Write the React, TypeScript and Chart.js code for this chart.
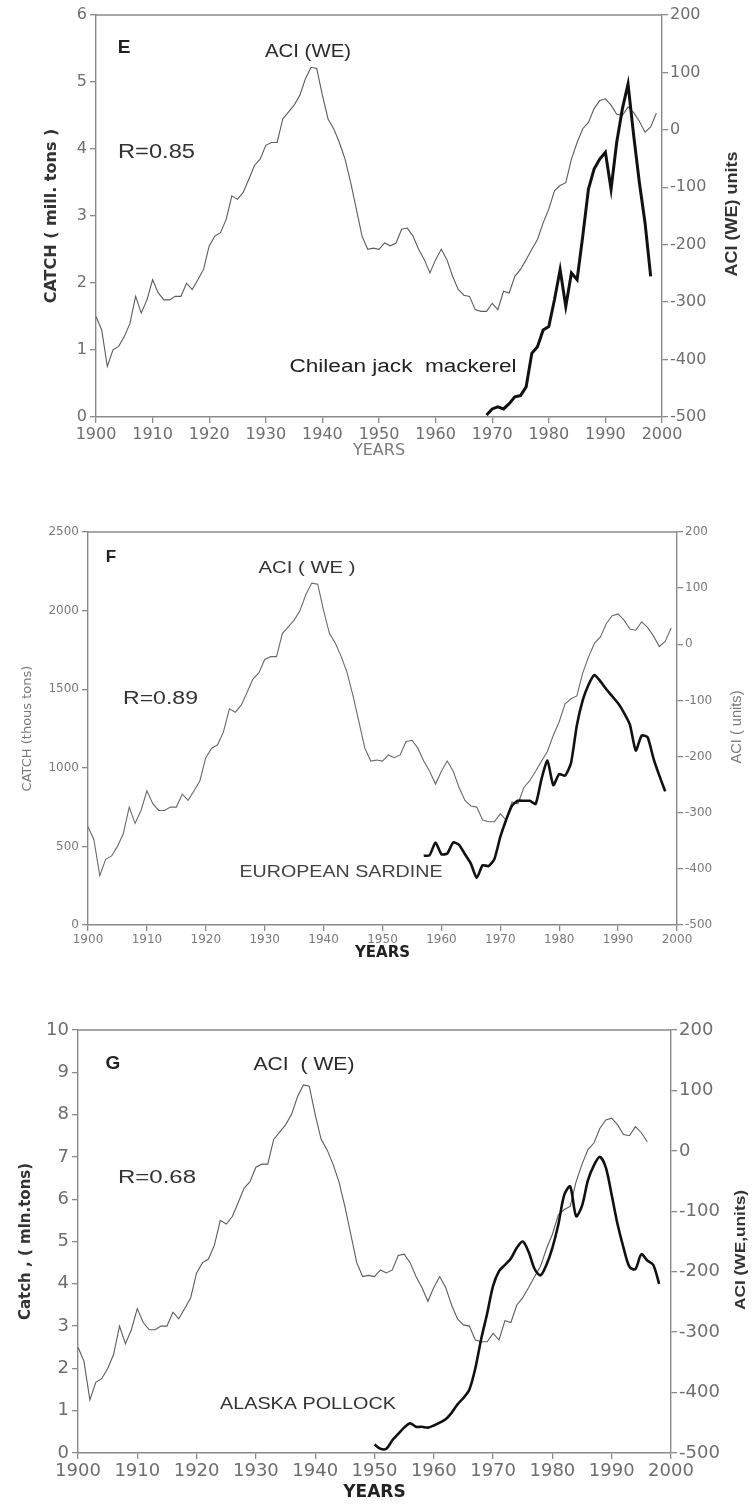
import React, { useEffect, useRef } from "react";
import { Chart, registerables } from "chart.js";

Chart.register(...registerables);
Chart.defaults.font.family = "DejaVu Sans";

// ---------------- DATA ----------------
// ACI (WE) index, annual, 1900..1999 (right axis units)
const ACI_START = 1900;
const aciValues = [
  -325, -348, -412, -383, -377, -360, -337, -290, -319, -296,
  -261, -284, -296, -296, -290, -290, -267, -278, -261, -243,
  -202, -185, -179, -156, -115, -121, -109, -86, -62, -51,
  -27, -22, -22, 19, 31, 43, 60, 89, 109, 107,
  60, 19, 2, -22, -51, -92, -138, -185, -208, -206,
  -208, -197, -202, -197, -173, -171, -185, -208, -226, -249,
  -226, -208, -226, -255, -278, -288, -290, -313, -316, -316,
  -302, -313, -281, -284, -255, -243, -226, -208, -191, -162,
  -138, -106, -97, -92, -51, -22, 2, 13, 37, 51,
  54, 43, 27, 25, 40, 30, 15, -4, 5, 29,
];

// Chilean jack mackerel catch (mill. tons), 1969..1998
const JACK_START = 1969;
const jackMackerel = [
  0.03, 0.12, 0.15, 0.12, 0.2, 0.3, 0.32, 0.45, 0.95, 1.05,
  1.3, 1.35, 1.75, 2.2, 1.65, 2.15, 2.05, 2.7, 3.4, 3.7,
  3.85, 3.95, 3.4, 4.1, 4.6, 4.97, 4.2, 3.5, 2.9, 2.1,
];

// European sardine catch (thous. tons), 1957..1998
const SARDINE_START = 1957;
const europeanSardine = [
  440, 445, 525, 450, 455, 525, 510, 450, 390, 300,
  380, 375, 420, 560, 670, 760, 790, 790, 790, 770,
  930, 1045, 890, 960, 950, 1030, 1270, 1430, 1530, 1590,
  1550, 1500, 1455, 1410, 1350, 1275, 1110, 1205, 1195, 1060,
  950, 850,
];

// Alaska pollock catch (mln. tons), 1950..1998
const POLLOCK_START = 1950;
const alaskaPollock = [
  0.2, 0.1, 0.1, 0.3, 0.45, 0.6, 0.7, 0.62, 0.62, 0.6,
  0.65, 0.72, 0.8, 0.95, 1.15, 1.3, 1.5, 2.0, 2.7, 3.3,
  3.95, 4.3, 4.45, 4.6, 4.85, 5.0, 4.75, 4.35, 4.2, 4.45,
  4.85, 5.4, 6.1, 6.3, 5.6, 5.85, 6.45, 6.8, 7.0, 6.75,
  6.1, 5.4, 4.85, 4.4, 4.35, 4.7, 4.55, 4.45, 4.0,
];

const X_TICKS = { min: 1900, max: 2000, step: 10 };
const ACI_AXIS = { min: -500, max: 200, step: 100 };

// ---------------- LAYOUT / STYLE ----------------
type Note = {
  text: string; x: number; y: number; font: string; color: string;
  align: CanvasTextAlign; width?: number; rotate?: boolean;
};

type PanelSpec = {
  top: number; height: number; padTop: number; xAxisH: number;
  leftW: number; rightW: number;
  leftMax: number; leftStep: number;
  tickSize: number; tickColor: string; tickLen: number;
  leftTitle: { text: string; font: any; color: string; pad: number };
  xTitle: { text: string; font: any; color: string; pad: number };
  aciEnd: number; aciColor: string;
  catchStart: number; catchValues: number[]; catchWidth: number; tension: number;
  notes: Note[];
};

const AXIS_COLOR = "#8a8a8a";
const FF = "DejaVu Sans";
const AF = "Liberation Sans";

const panels: PanelSpec[] = [
  {
    top: 0, height: 470, padTop: 15, xAxisH: 53, leftW: 96, rightW: 90,
    leftMax: 6, leftStep: 1, tickSize: 16, tickColor: "#6e6e6e", tickLen: 6,
    leftTitle: { text: "CATCH ( mill. tons )", font: { size: 16, weight: "bold", family: FF }, color: "#333", pad: 42 },
    xTitle: { text: "YEARS", font: { size: 16, family: FF }, color: "#7a7a7a", pad: 10 },
    aciEnd: 1999, aciColor: "#5c5c5c",
    catchStart: JACK_START, catchValues: jackMackerel, catchWidth: 3, tension: 0,
    notes: [
      { text: "E", x: 124, y: 48, font: `bold 19px ${AF}`, color: "#222", align: "center" },
      { text: "ACI (WE)", x: 308, y: 52, font: `18px ${AF}`, color: "#2a2a2a", align: "center", width: 86 },
      { text: "R=0.85", x: 118, y: 152, font: `20px ${AF}`, color: "#333", align: "left", width: 77 },
      { text: "Chilean jack  mackerel", x: 403, y: 367, font: `18px ${AF}`, color: "#222", align: "center", width: 227 },
      { text: "ACI (WE) units", x: 733, y: 214, font: `bold 16px ${AF}`, color: "#333", align: "center", width: 125, rotate: true },
    ],
  },
  {
    top: 470, height: 500, padTop: 62, xAxisH: 45, leftW: 88, rightW: 75,
    leftMax: 2500, leftStep: 500, tickSize: 12, tickColor: "#7a7a7a", tickLen: 6,
    leftTitle: { text: "CATCH (thous tons)", font: { size: 13, family: FF }, color: "#7a7a7a", pad: 20 },
    xTitle: { text: "YEARS", font: { size: 15, weight: "bold", family: FF }, color: "#222", pad: 8 },
    aciEnd: 1999, aciColor: "#6a6a6a",
    catchStart: SARDINE_START, catchValues: europeanSardine, catchWidth: 2.6, tension: 0.2,
    notes: [
      { text: "F", x: 111, y: 87, font: `bold 17px ${AF}`, color: "#222", align: "center" },
      { text: "ACI ( WE )", x: 307, y: 98, font: `17px ${AF}`, color: "#333", align: "center", width: 97 },
      { text: "R=0.89", x: 123, y: 229, font: `18px ${AF}`, color: "#333", align: "left", width: 75 },
      { text: "EUROPEAN SARDINE", x: 341, y: 402, font: `17px ${AF}`, color: "#444", align: "center", width: 203 },
      { text: "ACI ( units)", x: 737, y: 257, font: `14px ${AF}`, color: "#7a7a7a", align: "center", width: 73, rotate: true },
    ],
  },
  {
    top: 970, height: 535, padTop: 60, xAxisH: 52, leftW: 78, rightW: 81,
    leftMax: 10, leftStep: 1, tickSize: 18, tickColor: "#6e6e6e", tickLen: 6,
    leftTitle: { text: "Catch , ( mln.tons)", font: { size: 15, weight: "bold", family: FF }, color: "#333", pad: 17 },
    xTitle: { text: "YEARS", font: { size: 17, weight: "bold", family: FF }, color: "#222", pad: 2 },
    aciEnd: 1996, aciColor: "#5c5c5c",
    catchStart: POLLOCK_START, catchValues: alaskaPollock, catchWidth: 2.6, tension: 0.3,
    notes: [
      { text: "G", x: 113, y: 94, font: `bold 19px ${AF}`, color: "#222", align: "center" },
      { text: "ACI  ( WE)", x: 304, y: 95, font: `19px ${AF}`, color: "#2a2a2a", align: "center", width: 101 },
      { text: "R=0.68", x: 118, y: 208, font: `19px ${AF}`, color: "#333", align: "left", width: 78 },
      { text: "ALASKA POLLOCK", x: 308, y: 434, font: `17px ${AF}`, color: "#333", align: "center", width: 176 },
      { text: "ACI (WE,units)", x: 741, y: 280, font: `bold 15px ${AF}`, color: "#333", align: "center", width: 120, rotate: true },
    ],
  },
];

// ---------------- CHART BUILD ----------------
function toPoints(start: number, values: number[]) {
  return values.map((v, i) => ({ x: start + i, y: v }));
}

function buildConfig(p: PanelSpec): any {
  const aci = aciValues.slice(0, p.aciEnd - ACI_START + 1);
  const notesPlugin = {
    id: "notes",
    afterDraw(chart: any) {
      const ctx = chart.ctx as CanvasRenderingContext2D;
      const a = chart.chartArea;
      ctx.save();
      ctx.strokeStyle = AXIS_COLOR;
      ctx.lineWidth = 1.4;
      ctx.beginPath();
      ctx.moveTo(a.left, a.top);
      ctx.lineTo(a.right, a.top);
      ctx.stroke();
      ctx.restore();
      p.notes.forEach((n) => {
        ctx.save();
        ctx.font = n.font;
        ctx.fillStyle = n.color;
        ctx.textBaseline = "middle";
        ctx.textAlign = n.align;
        ctx.translate(n.x, n.y);
        if (n.rotate) ctx.rotate(-Math.PI / 2);
        if (n.width) {
          const w = ctx.measureText(n.text).width;
          if (w > 0) ctx.scale(n.width / w, 1);
        }
        ctx.fillText(n.text, 0, 0);
        ctx.restore();
      });
    },
  };

  const grid = { drawOnChartArea: false, drawTicks: true, tickLength: p.tickLen, color: AXIS_COLOR, lineWidth: 1.3 };
  const border = { display: true, color: AXIS_COLOR, width: 1.4 };
  const tickFont = { size: p.tickSize, family: FF };

  return {
    type: "line",
    data: {
      datasets: [
        {
          label: "Catch",
          data: toPoints(p.catchStart, p.catchValues),
          borderColor: "#111",
          borderWidth: p.catchWidth,
          pointRadius: 0,
          tension: p.tension,
          yAxisID: "y",
        },
        {
          label: "ACI (WE)",
          data: toPoints(ACI_START, aci),
          borderColor: p.aciColor,
          borderWidth: 1.1,
          pointRadius: 0,
          tension: 0,
          yAxisID: "y2",
        },
      ],
    },
    options: {
      responsive: false,
      animation: false,
      devicePixelRatio: 1,
      layout: { padding: { top: p.padTop, left: 0, right: 0, bottom: 0 } },
      plugins: { legend: { display: false }, tooltip: { enabled: false } },
      scales: {
        x: {
          type: "linear",
          position: "bottom",
          min: X_TICKS.min,
          max: X_TICKS.max,
          grid,
          border,
          ticks: {
            stepSize: X_TICKS.step, autoSkip: false, maxRotation: 0, padding: 2,
            font: tickFont, color: p.tickColor, callback: (v: any) => String(v),
          },
          title: { display: true, text: p.xTitle.text, font: p.xTitle.font, color: p.xTitle.color, padding: { top: 0, bottom: p.xTitle.pad } },
          afterFit: (s: any) => { s.height = p.xAxisH; },
        },
        y: {
          type: "linear",
          position: "left",
          min: 0,
          max: p.leftMax,
          grid,
          border,
          ticks: { stepSize: p.leftStep, padding: 3, font: tickFont, color: p.tickColor, callback: (v: any) => String(v) },
          title: { display: true, text: p.leftTitle.text, font: p.leftTitle.font, color: p.leftTitle.color, padding: { top: p.leftTitle.pad, bottom: 0 } },
          afterFit: (s: any) => { s.width = p.leftW; },
        },
        y2: {
          type: "linear",
          position: "right",
          min: ACI_AXIS.min,
          max: ACI_AXIS.max,
          grid,
          border,
          ticks: { stepSize: ACI_AXIS.step, padding: 2, font: tickFont, color: p.tickColor, callback: (v: any) => String(v) },
          afterFit: (s: any) => { s.width = p.rightW; },
        },
      },
    },
    plugins: [notesPlugin],
  };
}

function Panel({ spec }: { spec: PanelSpec }) {
  const ref = useRef<HTMLCanvasElement>(null);
  useEffect(() => {
    if (!ref.current) return;
    const chart = new Chart(ref.current, buildConfig(spec));
    return () => chart.destroy();
  }, [spec]);
  return (
    <canvas
      ref={ref}
      width={752}
      height={spec.height}
      style={{ position: "absolute", left: 0, top: spec.top, width: 752, height: spec.height }}
    />
  );
}

export default function App() {
  useEffect(() => {
    document.body.style.overflow = "hidden";
  }, []);
  return (
    <div style={{ position: "absolute", left: 0, top: 0, width: 752, height: 1505, background: "#fff", overflow: "hidden" }}>
      {panels.map((p, i) => (
        <Panel key={i} spec={p} />
      ))}
    </div>
  );
}
